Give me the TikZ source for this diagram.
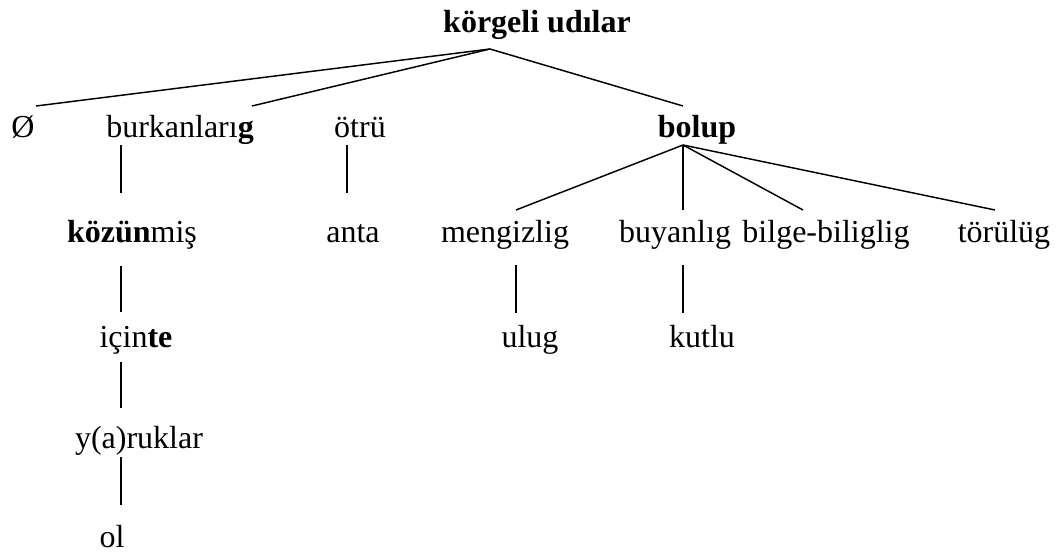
\documentclass[tikz,border=0pt]{standalone}
\usepackage{fontspec}
\setmainfont{Liberation Serif}
\tikzset{
    wort/.style={anchor=base, inner sep=0pt, font=\fontsize{24pt}{28pt}\selectfont},
    ast/.style={line width=1.1pt}
}
\begin{document}
\begin{tikzpicture}[x=0.75pt, y=-0.75pt]
            \useasboundingbox (0, 0) rectangle (1063, 553);
            % Wörter
            \node [wort] (root)   at ( 537,  32) {\textbf{körgeli udılar}};
            \node [wort] (leer)   at (  23, 137) {Ø};
            \node [wort] (burk)   at ( 180, 137) {burkanları\textbf{g}};
            \node [wort] (otru)   at ( 360, 137) {ötrü};
            \node [wort] (bolup)  at ( 697, 137) {\textbf{bolup}};
            \node [wort] (kozun)  at ( 132, 242) {\textbf{közün}miş};
            \node [wort] (anta)   at ( 353, 242) {anta};
            \node [wort] (meng)   at ( 505, 242) {mengizlig};
            \node [wort] (buyan)  at ( 675, 242) {buyanlıg};
            \node [wort] (bilge)  at ( 826, 242) {bilge-biliglig};
            \node [wort] (toru)   at (1004, 242) {törülüg};
            \node [wort] (icinte) at ( 136, 347) {için\textbf{te}};
            \node [wort] (ulug)   at ( 530, 347) {ulug};
            \node [wort] (kutlu)  at ( 702, 347) {kutlu};
            \node [wort] (yaruk)  at ( 139, 448) {y(a)ruklar};
            \node [wort] (ol)     at ( 112, 547) {ol};
            % Anschlusspunkte der Linien
            \coordinate (root-s)   at (490,  49);
            \coordinate (leer-n)   at ( 36, 106);
            \coordinate (burk-n)   at (252, 106);
            \coordinate (bolup-n)  at (683, 106);
            \coordinate (burk-s)   at (121, 145);
            \coordinate (kozun-n)  at (121, 193);
            \coordinate (otru-s)   at (347, 145);
            \coordinate (anta-n)   at (347, 193);
            \coordinate (bolup-s)  at (683, 145);
            \coordinate (meng-n)   at (516, 210);
            \coordinate (buyan-n)  at (683, 210);
            \coordinate (bilge-n)  at (803, 210);
            \coordinate (toru-n)   at (995, 210);
            \coordinate (kozun-s)  at (121, 266);
            \coordinate (icinte-n) at (121, 312);
            \coordinate (icinte-s) at (121, 362);
            \coordinate (yaruk-n)  at (121, 408);
            \coordinate (yaruk-s)  at (121, 457);
            \coordinate (ol-n)     at (121, 505);
            \coordinate (meng-s)   at (516, 265);
            \coordinate (ulug-n)   at (516, 313);
            \coordinate (buyan-s)  at (683, 265);
            \coordinate (kutlu-n)  at (683, 313);
            % Äste
            \draw [ast] (root-s) -- (leer-n);
            \draw [ast] (root-s) -- (burk-n);
            \draw [ast] (root-s) -- (bolup-n);
            \draw [ast] (burk-s) -- (kozun-n);
            \draw [ast] (otru-s) -- (anta-n);
            \foreach \k in {meng, buyan, bilge, toru}
                \draw [ast] (bolup-s) -- (\k-n);
            \draw [ast] (kozun-s) -- (icinte-n);
            \draw [ast] (icinte-s) -- (yaruk-n);
            \draw [ast] (yaruk-s) -- (ol-n);
            \draw [ast] (meng-s) -- (ulug-n);
            \draw [ast] (buyan-s) -- (kutlu-n);
        \end{tikzpicture}
\end{document}
